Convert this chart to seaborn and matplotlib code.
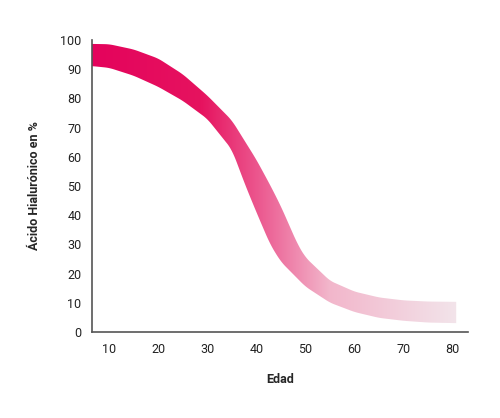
import numpy as np
import matplotlib
matplotlib.use("Agg")
import matplotlib.pyplot as plt
import seaborn as sns
from matplotlib.colors import LinearSegmentedColormap

sns.set_style("white")
plt.rcParams['font.family'] = ['Roboto', 'DejaVu Sans']

edad_up = [6.5, 10, 15, 20, 25, 30, 35, 40, 42.9, 45, 48.4, 50, 55, 60, 65, 70, 75, 80.7]
upper = [98.7, 98.6, 96.8, 93.7, 88.3, 81, 72.5, 59, 50, 43, 30, 25.5, 17.5, 13.8, 11.8, 10.8, 10.4, 10.3]
edad_lo = [6.5, 10, 15, 20, 25, 30, 35, 37.8, 40, 42.8, 45, 50, 55, 60, 65, 70, 75, 80.7]
lower = [91.1, 90.5, 87.8, 84, 79.2, 73, 62.5, 50, 41, 30, 24, 15.5, 10, 6.8, 4.8, 3.8, 3.2, 3.0]

fig = plt.figure(figsize=(5, 4.18), dpi=100)
ax = fig.add_axes([0.184, 0.206, 0.752, 0.698])

xs = np.linspace(6.5, 80.7, 800)
up = np.interp(xs, edad_up, upper)
lo = np.interp(xs, edad_lo, lower)
n = 21
k = np.ones(n) / n
pad = lambda a: np.concatenate([np.full(n // 2, a[0]), a, np.full(n // 2, a[-1])])
up = np.convolve(pad(up), k, mode='valid')
lo = np.convolve(pad(lo), k, mode='valid')

poly = ax.fill_between(xs, lo, up, color='none', lw=0)
cmap = LinearSegmentedColormap.from_list(
    'hp', [(0, '#E4035C'), (0.3, '#E6135F'), (0.47, '#EC5E93'), (0.65, '#F2B6CB'), (1, '#F3E4EA')])
grad = np.linspace(0, 1, 256).reshape(1, -1)
im = ax.imshow(grad, cmap=cmap, aspect='auto', extent=[6.5, 80.7, 0, 100], origin='lower')
im.set_clip_path(poly.get_paths()[0], transform=ax.transData)

ax.set_xlim(6.5, 83.1)
ax.set_ylim(0, 100)
ax.set_xticks(range(10, 81, 10))
ax.set_yticks(range(0, 101, 10))
sns.despine(ax=ax)
for s in ['left', 'bottom']:
    ax.spines[s].set_color('#555555')
    ax.spines[s].set_linewidth(1.2)
ax.tick_params(axis='y', length=4, color='#555555', labelsize=9, colors='#222222')
ax.tick_params(axis='x', length=0, labelsize=9, colors='#222222', pad=8)
ax.set_xlabel('Edad', fontsize=9, fontweight='bold', labelpad=12)
ax.set_ylabel('Ácido Hialurónico en %', fontsize=9, fontweight='bold', labelpad=14)
fig.savefig('out.png', dpi=100)
